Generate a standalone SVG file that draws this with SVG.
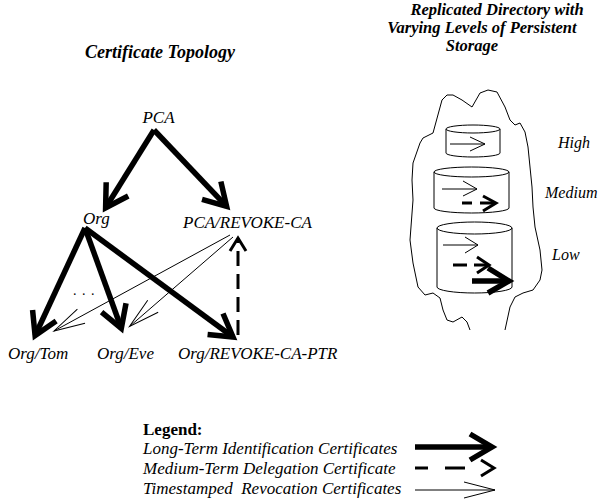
<svg xmlns="http://www.w3.org/2000/svg" width="601" height="504" viewBox="0 0 601 504" font-family="'Liberation Serif', 'Times New Roman', serif">
<style>
  text { font-family: 'Liberation Serif', 'Times New Roman', serif; fill: #000; }
  .lbl { font-size: 17px; font-style: italic; }
  .title { font-size: 18px; font-style: italic; font-weight: bold; }
  .title2 { font-size: 16.5px; font-style: italic; font-weight: bold; }
  .lvl { font-size: 16px; font-style: italic; }
  .leg { font-size: 17px; font-style: italic; white-space: pre; }
  .legh { font-size: 17px; font-weight: bold; }
  .thick { stroke: #000; stroke-width: 5.5; fill: none; }
  .dash { stroke: #000; stroke-width: 3; fill: none; }
  .thin { stroke: #000; stroke-width: 1; fill: none; }
  .head { stroke-linejoin: miter; stroke-miterlimit: 10; stroke-dasharray: none; }
  .outline { stroke: #000; stroke-width: 1; fill: none; }
</style>
<defs>
  <marker id="mThick" markerUnits="userSpaceOnUse" orient="auto" refX="0" refY="0" markerWidth="1" markerHeight="1" overflow="visible">
    <path class="thick head" d="M-22,-13 L0,0 L-22,13"/>
  </marker>
  <marker id="mDash" markerUnits="userSpaceOnUse" orient="auto" refX="0" refY="0" markerWidth="1" markerHeight="1" overflow="visible">
    <path class="dash head" d="M-13,-8 L0,0 L-13,8"/>
  </marker>
  <marker id="mThin" markerUnits="userSpaceOnUse" orient="auto" refX="0" refY="0" markerWidth="1" markerHeight="1" overflow="visible">
    <path class="thin head" d="M-31,-8 L0,0 L-31,8"/>
  </marker>
</defs>

<rect width="601" height="504" fill="#fff"/>

<text class="title" x="160" y="58" text-anchor="middle">Certificate Topology</text>
<g id="dir-title">
  <text class="title2" x="497" y="15" text-anchor="middle">Replicated Directory with</text>
  <text class="title2" x="482" y="33" text-anchor="middle">Varying Levels of Persistent</text>
  <text class="title2" x="472" y="51" text-anchor="middle">Storage</text>
</g>

<g id="connectors">
  <path class="thick" d="M154,130 L105.6,207.8" marker-end="url(#mThick)"/>
  <path class="thick" d="M154,130 L226.6,206.4" marker-end="url(#mThick)"/>
  <path class="thick" d="M85,228 L35.1,335.5" marker-end="url(#mThick)"/>
  <path class="thick" d="M85,228 L121.3,328.3" marker-end="url(#mThick)"/>
  <path class="thick" d="M85,228 L233,337" marker-end="url(#mThick)"/>
  <path class="dash" d="M238,335 L238,238" stroke-dasharray="15 8" marker-end="url(#mDash)"/>
  <path class="thin" d="M230,235 L54,331" marker-end="url(#mThin)"/>
  <path class="thin" d="M233,237 L129.5,326.5" marker-end="url(#mThin)"/>
</g>

<g id="PCA"><text class="lbl" x="158.5" y="123" text-anchor="middle">PCA</text></g>
<g id="Org"><text class="lbl" x="83" y="224">Org</text></g>
<g id="PCA-REVOKE-CA"><text class="lbl" x="183" y="228">PCA/REVOKE-CA</text></g>
<g id="Org-Tom"><text class="lbl" x="8" y="359">Org/Tom</text></g>
<g id="Org-Eve"><text class="lbl" x="97" y="359">Org/Eve</text></g>
<g id="Org-REVOKE-CA-PTR"><text class="lbl" x="178" y="359">Org/REVOKE-CA-PTR</text></g>
<text x="73" y="295" style="font-size:14px; letter-spacing:1px">. . .</text>

<g id="directory">
  <path class="outline" stroke-linejoin="round" d="M470,330 L467,322 L462,317 L453,322 L447,320 L443,310 L440,298 L433,293 L425,295 L418,287 L413,263 L410,240 L413,200 L412,180 L413,163 L420,143 L423,138 L433,133 L442,100 L447,95 L453,95 L462,100 L472,107 L480,93 L488,90 L497,92 L505,107 L510,120 L515,125 L520,123 L525,132 L528,147 L530,167 L532,187 L533,207 L535,227 L540,250 L542,270 L540,280 L533,290 L523,293 L515,297 L510,307 L505,330"/>

  <g id="cyl-high">
    <ellipse class="outline" cx="473" cy="129" rx="27" ry="4"/>
    <path class="outline" d="M446,129 L446,153 A27,4 0 0 0 500,153 L500,129"/>
    <path class="thin" d="M450,144 L485,144 M470,137 L485,144 L470,151"/>
  </g>
  <g id="cyl-medium">
    <ellipse class="outline" cx="471.5" cy="172" rx="37.5" ry="5"/>
    <path class="outline" d="M434,172 L434,208 A37.5,5 0 0 0 509,208 L509,172"/>
    <path class="thin" d="M442,189 L477,189 M463,181 L477,189 L463,196"/>
    <path class="dash" stroke-width="3.5" d="M462,203 L472,203 M480,203 L495,203"/>
    <path class="dash head" stroke-width="3.5" d="M483,196 L496,203 L483,211"/>
  </g>
  <g id="cyl-low">
    <ellipse class="outline" cx="474.5" cy="228" rx="37.5" ry="6"/>
    <path class="outline" d="M437,228 L437,287 A37.5,6 0 0 0 512,287 L512,228"/>
    <path class="thin" d="M443,245 L478,245 M465,237 L478,245 L465,253"/>
    <path class="dash" stroke-width="3.5" d="M453,265 L467,265 M474,265 L488,265"/>
    <path class="dash head" stroke-width="3.5" d="M477,257 L489,265 L477,273"/>
    <path class="thick" stroke-width="5" d="M472,281 L508,281"/>
    <path class="thick head" stroke-width="5" d="M488,268 L509,281 L488,293"/>
  </g>
  <text class="lvl" x="558" y="148">High</text>
  <text class="lvl" x="545" y="198">Medium</text>
  <text class="lvl" x="552" y="260">Low</text>
</g>

<g id="legend">
  <text class="legh" x="143" y="435">Legend:</text>
  <text class="leg" x="143" y="454">Long-Term Identification Certificates</text>
  <text class="leg" x="143" y="474">Medium-Term Delegation Certificate</text>
  <text class="leg" x="143" y="494">Timestamped  Revocation Certificates</text>
  <path class="thick" d="M415,447 L492,447" marker-end="url(#mThick)"/>
  <path class="dash" d="M415,468 L494,468" stroke-dasharray="13 17 20 40" marker-end="url(#mDash)"/>
  <path class="thin" d="M415,490 L495,490" marker-end="url(#mThin)"/>
</g>
</svg>
